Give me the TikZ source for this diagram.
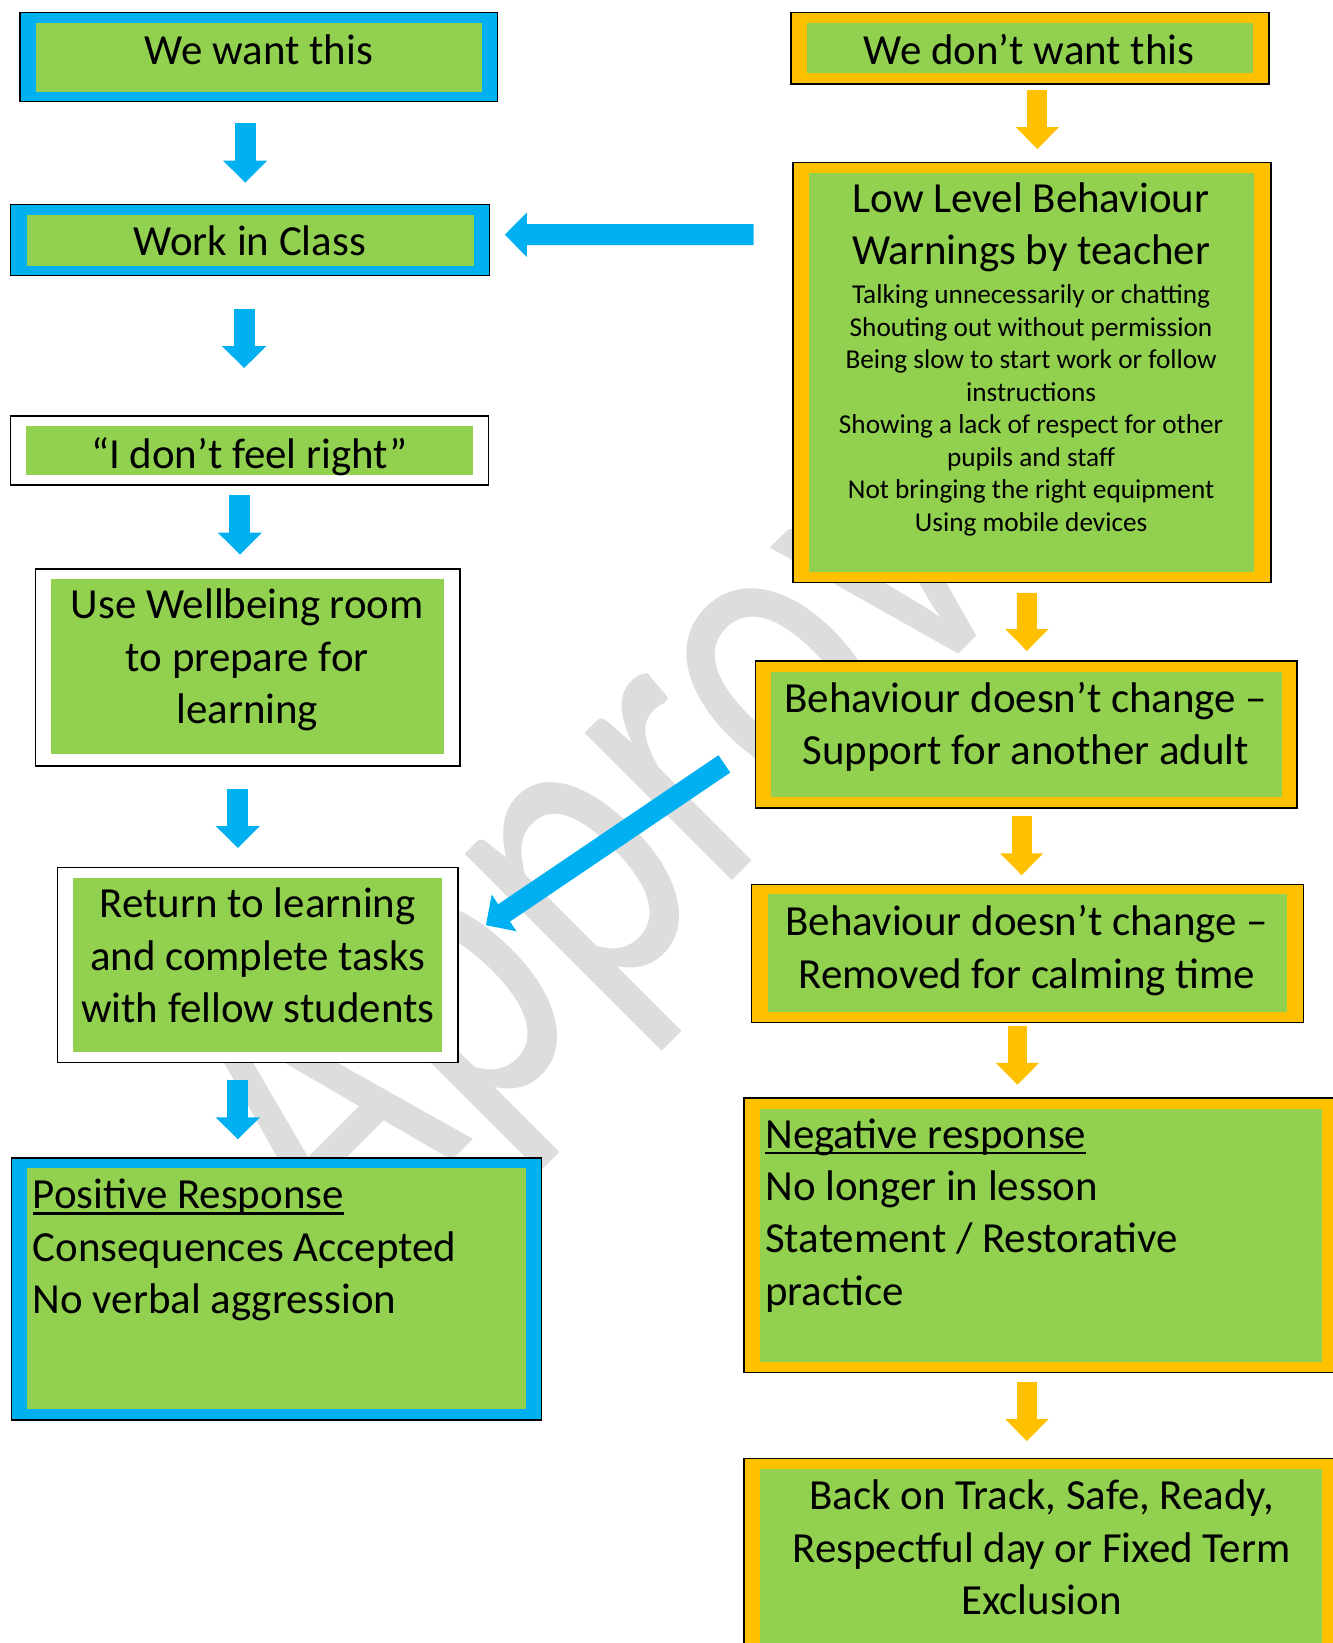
\documentclass[tikz,border=0pt]{standalone}
\usepackage{fontspec}
\setmainfont{Carlito}
\usetikzlibrary{arrows.meta,fit}

\definecolor{blueC}{HTML}{00B0F0}
\definecolor{greenC}{HTML}{92D050}
\definecolor{orangeC}{HTML}{FFC000}
\definecolor{greyC}{HTML}{DDDDDD}

\newcommand{\ulin}[1]{\setbox0\hbox{#1}\rlap{\rule[-0.14em]{\wd0}{0.06em}}\box0}

\tikzset{
  frame/.style={draw=black, line width=0.8pt, inner sep=0pt},
  panel/.style={fill=greenC, inner sep=0pt},
  bigtxt/.style={inner sep=0pt, align=center, font=\fontsize{23.3}{28.45}\selectfont,
    execute at begin node=\strut, execute at end node=\strut},
  smalltxt/.style={inner sep=0pt, align=center, font=\fontsize{14.8}{17.64}\selectfont,
    execute at begin node=\strut, execute at end node=\strut},
  bluearrow/.style={draw=blueC, line width=0.4cm, -{Triangle[width=0.82cm, length=0.42cm]}},
  orangearrow/.style={draw=orangeC, line width=0.38cm, -{Triangle[width=0.8cm, length=0.42cm]}},
  stamp/.style={text=greyC, font=\fontsize{237}{237}\selectfont, inner sep=0pt, rotate=45}
}

\begin{document}
\begin{tikzpicture}[x=0.02cm, y=-0.02cm]
\useasboundingbox (0,0) rectangle (1272,1568);
\clip (0,0) rectangle (1272,1568);

% watermark behind everything
\node[stamp, anchor=base west] (mark) at (325,1215) {\scalebox{0.75}[1]{Approv}};

% left column
\node[frame, fill=blueC, fit={(19,12) (475,97)}] (want) {};
\node[panel, fit={(34,22) (460,88)}] (wantIn) {};
\node[bigtxt] (wantTxt) at (247,52) {We want this};

\node[frame, fill=blueC, fit={(10,195) (467,263)}] (work) {};
\node[panel, fit={(26,205) (452,254)}] (workIn) {};
\node[bigtxt] (workTxt) at (238.5,234) {Work in Class};

\node[frame, fill=white, fit={(10,397) (466,463)}] (feel) {};
\node[panel, fit={(25,407) (451,453)}] (feelIn) {};
\node[bigtxt] (feelTxt) at (238,437) {“I don’t feel right”};

\node[frame, fill=white, fit={(34,543) (439,731)}] (well) {};
\node[panel, fit={(49,553) (424,720)}] (wellIn) {};
\node[bigtxt] (wellTxt) at (236,634) {Use Wellbeing room\\to prepare for\\learning};

\node[frame, fill=white, fit={(55,828) (437,1014)}] (ret) {};
\node[panel, fit={(70,838) (422,1004)}] (retIn) {};
\node[bigtxt] (retTxt) at (246,919) {Return to learning\\and complete tasks\\with fellow students};

\node[frame, fill=blueC, fit={(11,1105) (517,1355)}] (pos) {};
\node[panel, fit={(26,1115) (502,1345)}] (posIn) {};
\node[bigtxt, align=left, anchor=west] (posTxt) at (31,1197)
  {\ulin{Positive Response}\\Consequences Accepted\\No verbal aggression};

% right column
\node[frame, fill=orangeC, fit={(755,12) (1211,80)}] (dont) {};
\node[panel, fit={(770,22) (1196,70)}] (dontIn) {};
\node[bigtxt] (dontTxt) at (982,52) {We don’t want this};

\node[frame, fill=orangeC, fit={(757,155) (1213,556)}] (low) {};
\node[panel, fit={(772,165) (1197,546)}] (lowIn) {};
\node[bigtxt] (lowTxt) at (984,221) {Low Level Behaviour\\Warnings by teacher};
\node[smalltxt] (lowList) at (984,394) {Talking unnecessarily or chatting\\Shouting out without permission\\Being slow to start work or follow\\instructions\\Showing a lack of respect for other\\pupils and staff\\Not bringing the right equipment\\Using mobile devices};

\node[frame, fill=orangeC, fit={(721,631) (1238,771)}] (supp) {};
\node[panel, fit={(736,641) (1223,761)}] (suppIn) {};
\node[bigtxt] (suppTxt) at (979,698) {Behaviour doesn’t change –\\Support for another adult};

\node[frame, fill=orangeC, fit={(717,844) (1244,976)}] (rem) {};
\node[panel, fit={(733,853) (1228,966)}] (remIn) {};
\node[bigtxt] (remTxt) at (980,911) {Behaviour doesn’t change –\\Removed for calming time};

\node[frame, fill=orangeC, fit={(710,1048) (1280,1310)}] (neg) {};
\node[panel, fit={(725,1058) (1262,1300)}] (negIn) {};
\node[bigtxt, align=left, anchor=west] (negTxt) at (730,1164)
  {\ulin{Negative response}\\No longer in lesson\\Statement / Restorative\\practice};

\node[frame, fill=orangeC, fit={(710,1392) (1280,1590)}] (back) {};
\node[panel, fit={(725,1402) (1262,1580)}] (backIn) {};
\node[bigtxt] (backTxt) at (994,1484) {Back on Track, Safe, Ready,\\Respectful day or Fixed Term\\Exclusion};

% blue arrows
\draw[bluearrow] ([shift={(-13,20)}]want.south) -- ([shift={(-4.5,-20)}]work.north);
\draw[bluearrow] ([shift={(-5.5,31)}]work.south) -- ([shift={(-5,-45)}]feel.north);
\draw[bluearrow] ([shift={(-9,9)}]feel.south) -- ([shift={(-7.5,-13)}]well.north);
\draw[bluearrow] ([shift={(-9.5,21)}]well.south) -- ([shift={(-19,-18)}]ret.north);
\draw[bluearrow] ([shift={(-19,16)}]ret.south) -- ([shift={(-37,-17)}]pos.north);
\draw[bluearrow] ([shift={(-37,-131.5)}]low.west) -- ([shift={(14,-5)}]work.east);
\draw[bluearrow] ([shift={(-29,28)}]supp.west) -- ([shift={(26,-38)}]ret.east);

% orange arrows
\draw[orangearrow] ([shift={(7,5)}]dont.south) -- ([shift={(5,-12)}]low.north);
\draw[orangearrow] ([shift={(-5,9)}]low.south) -- ([shift={(0.5,-9)}]supp.north);
\draw[orangearrow] ([shift={(-4.5,7)}]supp.south) -- ([shift={(-5.5,-8)}]rem.north);
\draw[orangearrow] ([shift={(-9.5,2)}]rem.south) -- ([shift={(-24,-12)}]neg.north);
\draw[orangearrow] ([shift={(-15,8)}]neg.south) -- ([shift={(-15,-16)}]back.north);

\end{tikzpicture}
\end{document}
